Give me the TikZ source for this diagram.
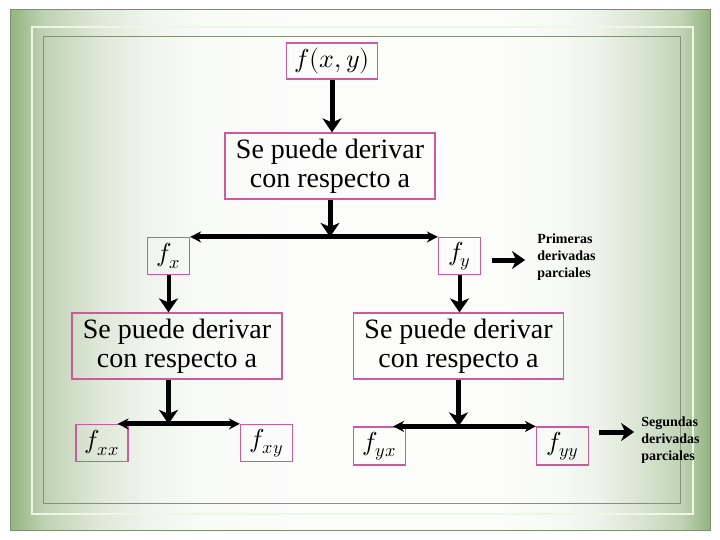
\documentclass[tikz,border=0pt]{standalone}
\usepackage{fontspec}
\setmainfont{Liberation Serif}
\usepackage{unicode-math}
\setmathfont{Latin Modern Math}
\usepackage{xcolor}
\usepackage{tikz}
\usetikzlibrary{arrows.meta,positioning}

\definecolor{framegreen}{RGB}{148,180,128}
\definecolor{framedark}{RGB}{128,142,112}
\definecolor{framelight}{RGB}{236,248,228}
\definecolor{frameline}{RGB}{132,146,120}
\definecolor{boxpink}{RGB}{205,90,155}
\colorlet{bgA}{framegreen!60!white}
\colorlet{bgB}{framegreen!30!white}
\colorlet{bgC}{framegreen!14!white}
\colorlet{bgD}{framegreen!6!white}
\colorlet{bgE}{framegreen!3!white}
\colorlet{bgF}{framegreen!8!white}
\colorlet{bgG}{framegreen!17!white}
\colorlet{bgH}{framegreen!35!white}
\colorlet{bgI}{framegreen!58!white}
\pgfdeclarehorizontalshading{slidebg}{100bp}{color(0bp)=(framegreen); color(25bp)=(framegreen); color(27.4bp)=(bgA); color(31.4bp)=(bgB); color(35bp)=(bgC); color(38.6bp)=(bgD); color(45.7bp)=(bgE); color(60bp)=(bgE); color(64.3bp)=(bgF); color(67.1bp)=(bgG); color(70bp)=(bgH); color(72.9bp)=(bgI); color(75bp)=(framegreen); color(100bp)=(framegreen)}

\begin{document}
\begin{tikzpicture}[x=1pt, y=-1pt,
    fbox/.style={rectangle, draw=boxpink, line width=1.2pt, inner sep=0pt, minimum width=52pt, minimum height=37pt, font=\fontsize{26}{30}\selectfont},
    textbox/.style={rectangle, draw=boxpink, line width=1.2pt, inner sep=0pt, minimum width=210pt, minimum height=66pt, align=center, font=\fontsize{28}{29}\selectfont},
    note/.style={align=left, inner sep=2pt, font=\fontsize{14}{17}\selectfont\bfseries},
    downarrow/.style={line width=5pt, -{Stealth[length=14pt,width=19pt,inset=4pt]}},
    splitarrow/.style={line width=5pt, {Stealth[length=11pt,width=11pt]}-{Stealth[length=11pt,width=11pt]}},
    sidearrow/.style={line width=5pt, -{Stealth[length=13pt,width=18pt,inset=4pt]}}]
    % Background
    \useasboundingbox (0,0) rectangle (720,540);
    \fill[white] (0,0) rectangle (720,540);
    \shade[shading=slidebg] (10,10) rectangle (710,530);
    \draw[framedark, line width=1pt] (10,10) rectangle (710,530);
    \draw[framelight, line width=1.5pt] (32,27) rectangle (693,514);
    \draw[frameline, line width=1pt] (43,37) rectangle (680,503);

    % Nodes
    \node (func) [fbox, minimum width=91pt, minimum height=36pt] at (332,61) {$f(x,y)$};
    \node (deriv) [textbox, node distance=105pt, below of=func, xshift=-2pt] {Se puede derivar\\con respecto a};
    \node (fx) [fbox, minimum width=42pt, node distance=90pt, below of=deriv, xshift=-161.5pt] {$f_x$};
    \node (fy) [fbox, minimum width=42pt, node distance=90pt, below of=deriv, xshift=129.5pt] {$f_y$};
    \node (derivx) [textbox, node distance=90pt, below of=fx, xshift=8.5pt] {Se puede derivar\\con respecto a};
    \node (derivy) [textbox, node distance=90pt, below of=fy, xshift=-1pt] {Se puede derivar\\con respecto a};
    \node (fxx) [fbox, node distance=97pt, below of=derivx, xshift=-75pt] {$f_{xx}$};
    \node (fxy) [fbox, node distance=97pt, below of=derivx, xshift=89.5pt] {$f_{xy}$};
    \node (fyx) [fbox, minimum height=38pt, node distance=100pt, below of=derivy, xshift=-79pt] {$f_{yx}$};
    \node (fyy) [fbox, minimum height=38pt, node distance=100pt, below of=derivy, xshift=104pt] {$f_{yy}$};
    \node (first) [note, right=54pt of fy, yshift=-1pt] {Primeras\\derivadas\\parciales};
    \node (second) [note, right=50pt of fyy, yshift=6pt] {Segundas\\derivadas\\parciales};

    % Arrows
    \draw[downarrow] (func.south) -- (func.south |- deriv.north);
    \draw[downarrow] (deriv.south) -- (deriv.south |- fx.north);
    \draw[splitarrow] (fx.north east) -- (fy.north west);
    \draw[downarrow, line width=4pt] (fx.south) -- (fx.south |- derivx.north);
    \draw[downarrow, line width=4pt] (fy.south) -- (fy.south |- derivy.north);
    \draw[downarrow] (fx.south |- derivx.south) -- (fx.south |- fxx.north);
    \draw[splitarrow] ([xshift=-11pt]fxx.north east) -- (fxy.north west);
    \draw[downarrow] (derivy.south) -- (derivy.south |- fyx.north);
    \draw[splitarrow] ([xshift=-13pt]fyx.north east) -- (fyy.north west);
    \draw[sidearrow] ([xshift=11pt, yshift=-4pt]fy.east) -- ([xshift=-10pt, yshift=-3pt]first.west);
    \draw[sidearrow] ([xshift=10pt, yshift=14pt]fyy.east) -- ([xshift=-5pt, yshift=8pt]second.west);
\end{tikzpicture}
\end{document}
